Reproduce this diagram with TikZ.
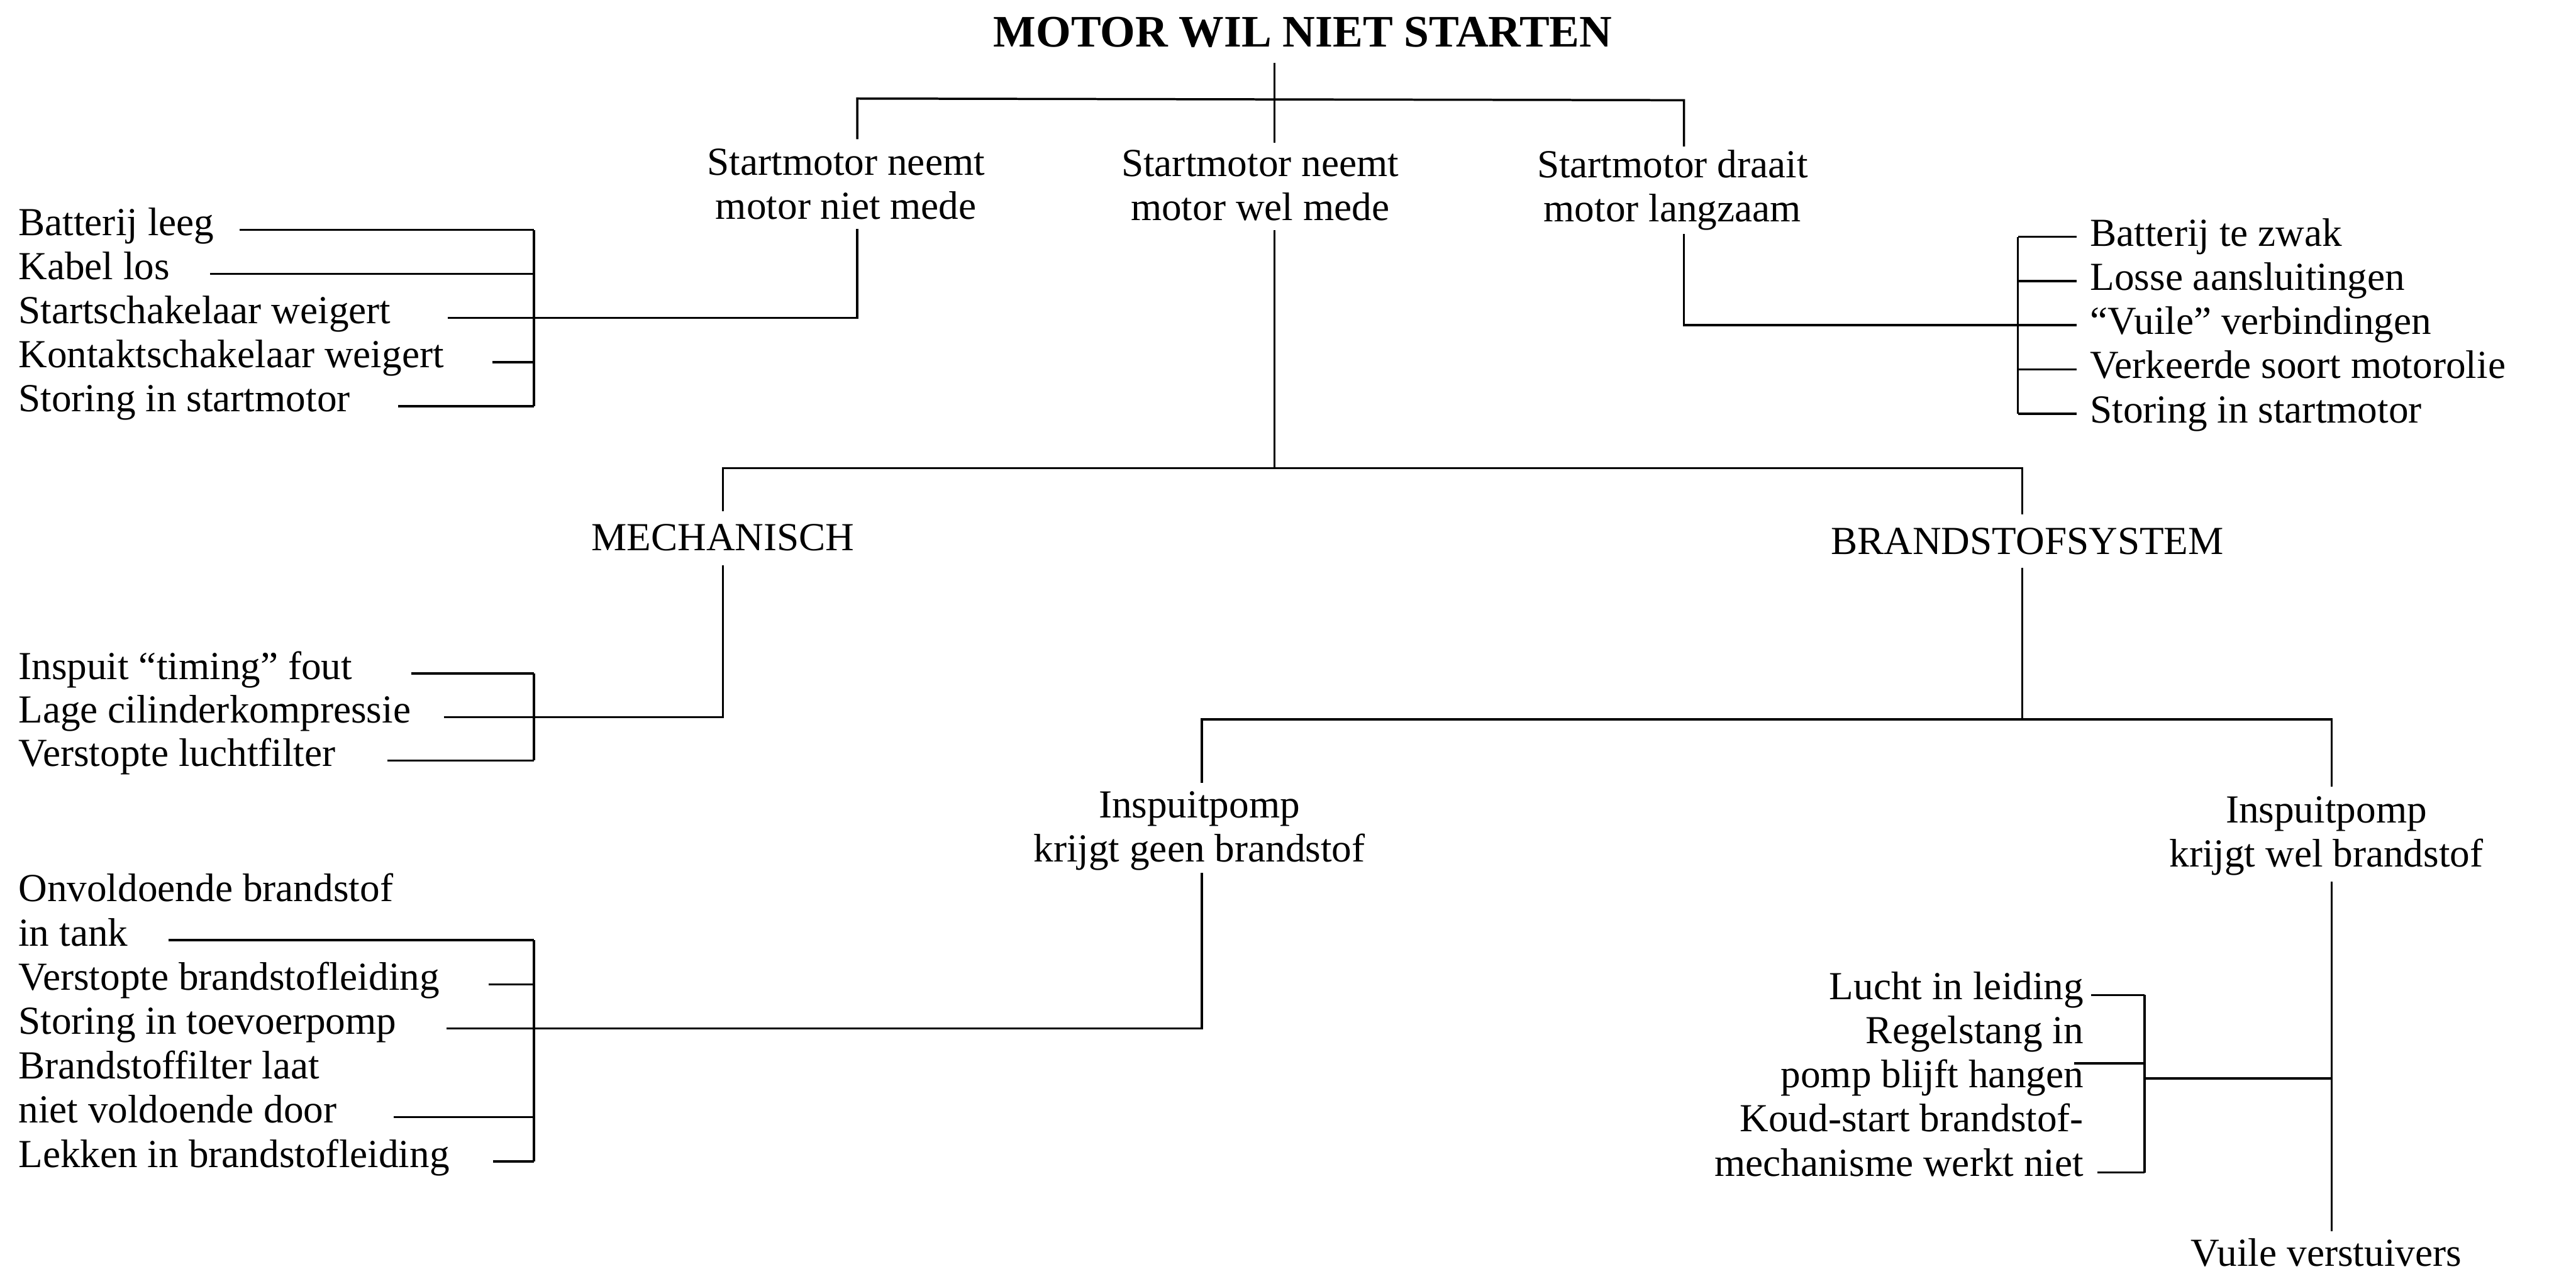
\documentclass[tikz,border=0pt]{standalone}
\usepackage{fontspec}
\setmainfont{Liberation Serif}
\usetikzlibrary{calc}
\newcommand\fsz{\fontsize{19}{21}\selectfont}
\newcommand\tsz{\fontsize{21.5}{24}\selectfont\bfseries}
\begin{document}
\begin{tikzpicture}[x=0.2757mm,y=-0.2757mm,
  lab/.style={font=\fsz,inner sep=0pt,align=center,anchor=base},
  leaf/.style={font=\fsz,inner sep=0pt,anchor=base west},
  leafr/.style={font=\fsz,inner sep=0pt,anchor=base east,align=right},
  wire/.style={line width=1.05pt}]
\useasboundingbox (0,0) rectangle (1568,775.5);

% ---------- title and level 1
\node[font=\tsz,inner sep=0pt,anchor=base] (top) at (793,28.5) {MOTOR WIL NIET STARTEN};
\coordinate (ta) at (521.8,60);
\coordinate (tb) at (775.8,60);
\coordinate (tc) at (1025,61);
% multi-line labels: anchor base = baseline of the last line
\node[lab] (s1) at (515,133.3) {Startmotor neemt\\motor niet mede};
\node[lab] (s2) at (767,134) {Startmotor neemt\\motor wel mede};
\node[lab] (s3) at (1018,135) {Startmotor draait\\motor langzaam};
\draw[wire] ($(top.south -| tb)+(0,9)$) -- ($(s2.north -| tb)+(0,-4)$);
\draw[wire] ($(s1.north -| ta)+(0,-5.5)$) -- (ta) -- (tc) -- ($(s3.north -| tc)+(0,-2)$);

% ---------- left group (motor niet mede)
\coordinate (k1) at (325,140);
\coordinate (k2) at (325,166.8);
\coordinate (k3) at (325,193.6);
\coordinate (k4) at (325,220.4);
\coordinate (k5) at (325,247.2);
\coordinate (j1) at (521.8,193.6);
\node[leaf] (l1) at (11,143.5) {Batterij leeg};
\node[leaf] (l2) at (11,170.3) {Kabel los};
\node[leaf] (l3) at (11,197.1) {Startschakelaar weigert};
\node[leaf] (l4) at (11,223.9) {Kontaktschakelaar weigert};
\node[leaf] (l5) at (11,250.7) {Storing in startmotor};
\coordinate (l1t) at (146,140);
\coordinate (l2t) at (128,166.8);
\coordinate (l3t) at (272.7,193.6);
\coordinate (l4t) at (299.6,220.4);
\coordinate (l5t) at (242.4,247.2);
\draw[wire] ($(s1.base -| ta)+(0,6)$) -- (j1) -- (k3);
\draw[wire] (k1) -- (k5);
\draw[wire] (l1t) -- (k1);
\draw[wire] (l2t) -- (k2);
\draw[wire] (l3t) -- (k3);
\draw[wire] (l4t) -- (k4);
\draw[wire] (l5t) -- (k5);

% ---------- right group (langzaam)
\coordinate (j3) at (1025,198);
\coordinate (r1j) at (1228.3,144.2);
\coordinate (r2j) at (1228.3,171.1);
\coordinate (r3j) at (1228.3,198);
\coordinate (r4j) at (1228.3,224.9);
\coordinate (r5j) at (1228.3,251.8);
\node[leaf] (r1) at (1272,149.7) {Batterij te zwak};
\node[leaf] (r2) at (1272,176.6) {Losse aansluitingen};
\node[leaf] (r3) at (1272,203.5) {“Vuile” verbindingen};
\node[leaf] (r4) at (1272,230.4) {Verkeerde soort motorolie};
\node[leaf] (r5) at (1272,257.3) {Storing in startmotor};
\draw[wire] ($(s3.base -| tc)+(0,7.5)$) -- (j3) -- (r3j);
\draw[wire] (r1j) -- (r5j);
\draw[wire] (r1j) -- ($(r1.base west)+(-8,-5.5)$);
\draw[wire] (r2j) -- ($(r2.base west)+(-8,-5.5)$);
\draw[wire] (r3j) -- ($(r3.base west)+(-8,-5.5)$);
\draw[wire] (r4j) -- ($(r4.base west)+(-8,-5.5)$);
\draw[wire] (r5j) -- ($(r5.base west)+(-8,-5.5)$);

% ---------- level 2 (wel mede)
\coordinate (u0) at (775.8,285);
\coordinate (ua) at (440,285);
\coordinate (ub) at (1231,285);
\node[lab] (mech) at (440,335) {MECHANISCH};
\node[lab] (brand) at (1234,337.5) {BRANDSTOFSYSTEM};
\draw[wire] ($(s2.base -| tb)+(0,6)$) -- (u0);
\draw[wire] ($(mech.north -| ua)+(0,-7.5)$) -- (ua) -- (ub) -- ($(brand.north -| ub)+(0,-8)$);

% ---------- mechanisch group
\coordinate (ma) at (440,436.5);
\coordinate (m1j) at (325,410);
\coordinate (m2j) at (325,436.5);
\coordinate (m3j) at (325,463);
\node[leaf] (m1) at (11,413.5) {Inspuit “timing” fout};
\node[leaf] (m2) at (11,440) {Lage cilinderkompressie};
\node[leaf] (m3) at (11,466.5) {Verstopte luchtfilter};
\coordinate (m1t) at (250.3,410);
\coordinate (m2t) at (270.2,436.5);
\coordinate (m3t) at (235.8,463);
\draw[wire] ($(mech.base -| ua)+(0,9)$) -- (ma) -- (m2j);
\draw[wire] (m1j) -- (m3j);
\draw[wire] (m1t) -- (m1j);
\draw[wire] (m2t) -- (m2j);
\draw[wire] (m3t) -- (m3j);

% ---------- brandstofsysteem
\coordinate (v0) at (1231,438);
\coordinate (va) at (731.5,438);
\coordinate (vb) at (1419.3,438);
\node[lab] (p1) at (730,524.8) {Inspuitpomp\\krijgt geen brandstof};
\node[lab] (p2) at (1416,527.8) {Inspuitpomp\\krijgt wel brandstof};
\draw[wire] ($(brand.base -| ub)+(0,8)$) -- (v0);
\draw[wire] ($(p1.north -| va)+(0,-5)$) -- (va) -- (vb) -- ($(p2.north -| vb)+(0,-6)$);

% ---------- geen brandstof group
\coordinate (w1) at (731.5,626.15);
\coordinate (f1j) at (325,572.25);
\coordinate (f2j) at (325,599.2);
\coordinate (f3j) at (325,626.15);
\coordinate (f4j) at (325,680.05);
\coordinate (f5j) at (325,707);
\node[leaf] (f1a) at (11,548.8) {Onvoldoende brandstof};
\node[leaf] (f1b) at (11,575.75) {in tank};
\node[leaf] (f2) at (11,602.7) {Verstopte brandstofleiding};
\node[leaf] (f3) at (11,629.65) {Storing in toevoerpomp};
\node[leaf] (f4a) at (11,656.6) {Brandstoffilter laat};
\node[leaf] (f4b) at (11,683.55) {niet voldoende door};
\node[leaf] (f5) at (11,710.5) {Lekken in brandstofleiding};
\coordinate (f1t) at (102.6,572.25);
\coordinate (f2t) at (297.4,599.2);
\coordinate (f3t) at (271.9,626.15);
\coordinate (f4t) at (239.8,680.05);
\coordinate (f5t) at (300.3,707);
\draw[wire] ($(p1.base -| va)+(0,6.7)$) -- (w1) -- (f3j);
\draw[wire] (f1j) -- (f5j);
\draw[wire] (f1t) -- (f1j);
\draw[wire] (f2t) -- (f2j);
\draw[wire] (f3t) -- (f3j);
\draw[wire] (f4t) -- (f4j);
\draw[wire] (f5t) -- (f5j);

% ---------- wel brandstof group
\coordinate (x1) at (1419.3,656.5);
\coordinate (g0) at (1305.3,656.5);
\coordinate (g1) at (1305.3,605.7);
\coordinate (g2) at (1305.3,647.4);
\coordinate (g3) at (1305.3,713.8);
\node[leafr] (g1n) at (1268.5,608.3) {Lucht in leiding};
\node[leafr] (g2n) at (1268.5,662.2) {Regelstang in\\pomp blijft hangen};
\node[leafr] (g3a) at (1268.5,689) {Koud-start brandstof-};
\node[leafr] (g3b) at (1268.5,716) {mechanisme werkt niet};
\node[lab] (vu) at (1416,770.6) {Vuile verstuivers};
\coordinate (g1t) at (1273,605.7);
\coordinate (g2t) at (1262.5,647.4);
\coordinate (g3t) at (1276.7,713.8);
\draw[wire] ($(p2.base -| vb)+(0,9)$) -- ($(vu.north -| vb)+(0,-4)$);
\draw[wire] (x1) -- (g0);
\draw[wire] (g1) -- (g3);
\draw[wire] (g1t) -- (g1);
\draw[wire] (g2t) -- (g2);
\draw[wire] (g3t) -- (g3);
\end{tikzpicture}
\end{document}
